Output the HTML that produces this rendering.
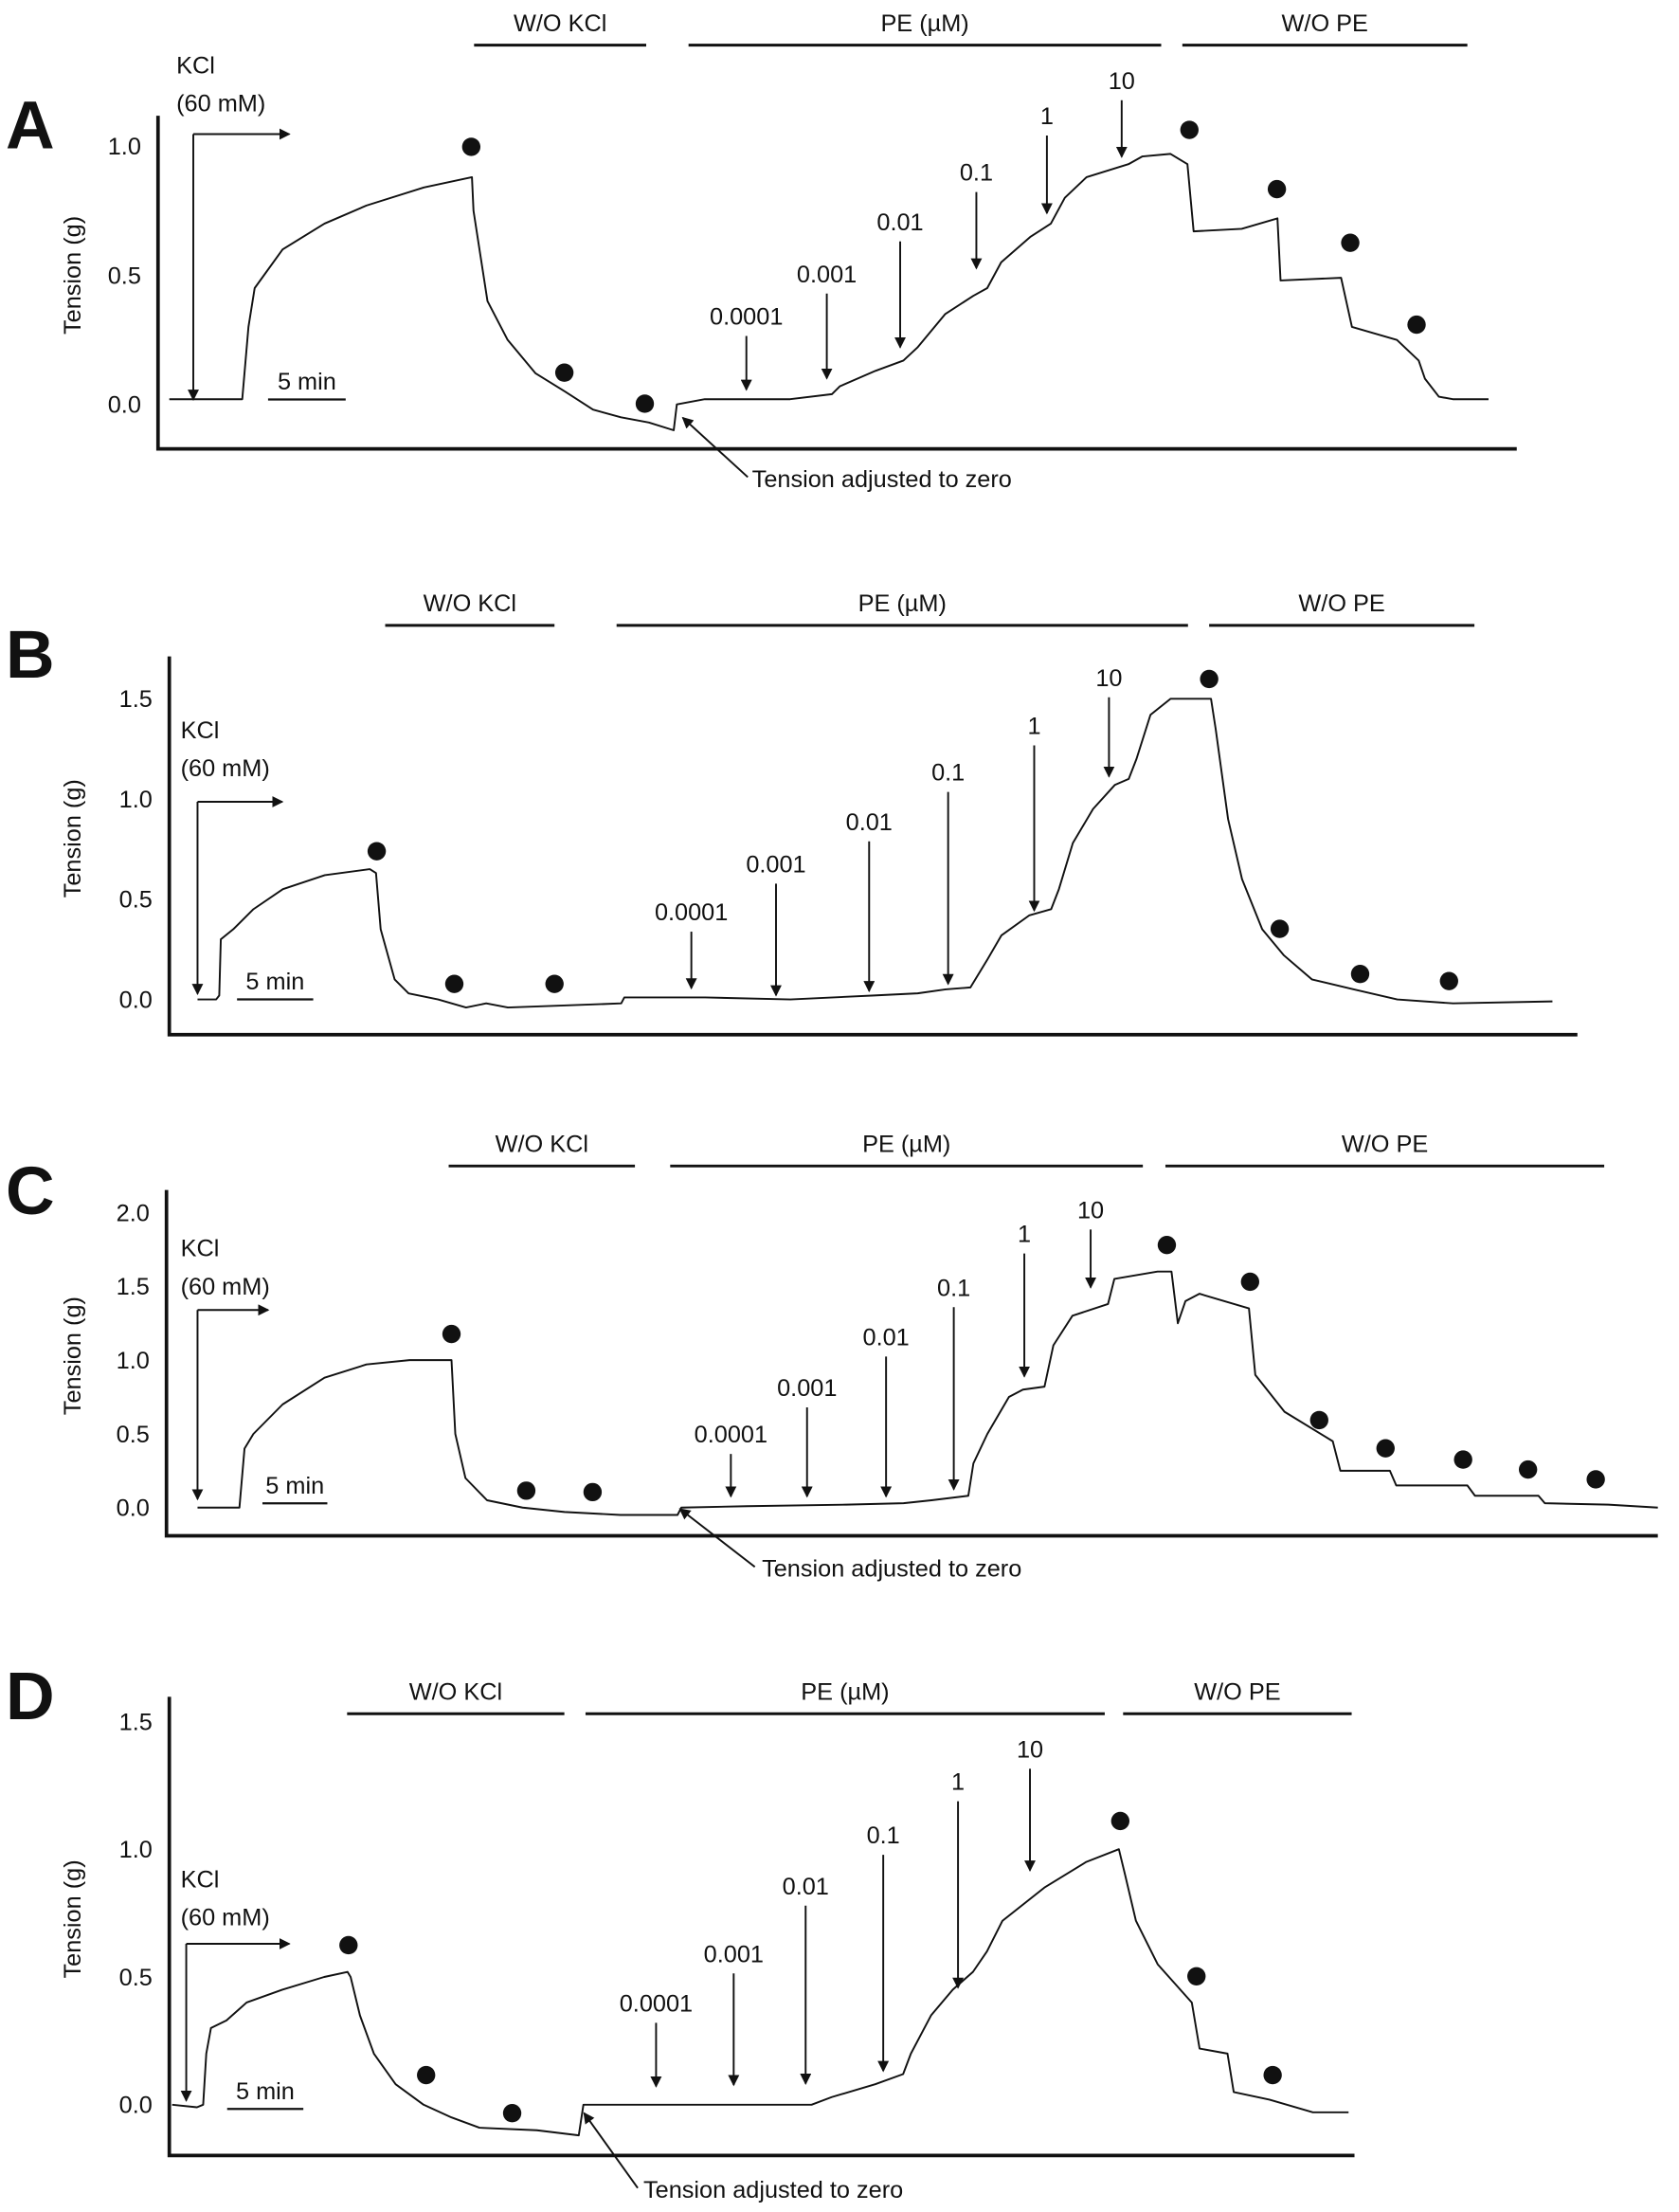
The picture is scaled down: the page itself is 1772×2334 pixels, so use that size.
<!DOCTYPE html>
<html><head><meta charset="utf-8"><style>
html,body{margin:0;padding:0;background:#fff}
svg{display:block}
text{font-family:"Liberation Sans",sans-serif;fill:#111}
</style></head><body>
<svg id="fig" width="1772" height="2334" viewBox="0 0 1190 1567" preserveAspectRatio="none" xmlns="http://www.w3.org/2000/svg">
<defs><marker id="ah" markerWidth="8" markerHeight="8" refX="7" refY="4" orient="auto" markerUnits="userSpaceOnUse"><path d="M0,0 L8,4 L0,8 Z" fill="#111"/></marker></defs>
</svg>
<script>
// Panel A data (time in min, tension in g)
const timeA=[0,4.7,5.1,5.5,7.3,10,12.7,16.4,19.5,19.6,20.5,21.8,23.6,25.5,27.3,29.1,30.9,32.5,32.7,34.5,40,42.7,43.2,45.5,47.3,48.2,50,51.8,52.7,53.6,55.5,56.8,57.7,59.1,61.8,62.7,64.5,65.6,66,69.1,71.4,71.6,75.5,76.2,79.1,80.5,80.9,81.8,82.7,85];
const tensionA=[0.02,0.02,0.3,0.45,0.6,0.7,0.77,0.84,0.88,0.75,0.4,0.25,0.12,0.05,-0.02,-0.05,-0.07,-0.1,0.0,0.02,0.02,0.04,0.07,0.13,0.17,0.22,0.35,0.42,0.45,0.55,0.65,0.7,0.8,0.88,0.93,0.96,0.97,0.93,0.67,0.68,0.72,0.48,0.49,0.3,0.25,0.17,0.1,0.03,0.02,0.02];
const ticksA=["0.0","0.5","1.0"];
// Panel B
const timeB=[0,1.2,1.4,1.5,2.3,3.6,5.5,8.2,11.1,11.5,11.8,12.7,13.6,15.5,17.3,18.6,20,23.6,27.3,27.5,32.7,38.2,43.6,46.4,48.2,49.8,50.9,51.8,53.6,55,55.5,56.4,57.7,59.1,60,60.5,61.4,62.7,65.3,65.6,66.4,67.3,68.6,70,71.8,74.5,77.3,80.9,87.3];
const tensionB=[0,0,0.02,0.3,0.35,0.45,0.55,0.62,0.65,0.63,0.35,0.1,0.03,0.0,-0.04,-0.02,-0.04,-0.03,-0.02,0.01,0.01,0.0,0.02,0.03,0.05,0.06,0.2,0.32,0.42,0.45,0.55,0.78,0.95,1.07,1.1,1.2,1.42,1.5,1.5,1.35,0.9,0.6,0.35,0.22,0.1,0.05,0.0,-0.02,-0.01];
const ticksB=["0.0","0.5","1.0","1.5"];
// Panel C
const timeC=[0,3.3,3.7,4.4,6.7,10,13.3,16.7,20,20.3,21.1,22.8,25.6,28.9,33.3,37.8,38.1,43.3,51.1,55.6,57.8,60.7,61.1,62.2,63.9,65,66.7,67.4,68.9,71.7,72.2,75.6,76.7,77.2,77.8,78.9,82.8,83.3,85.6,89.4,90,93.9,94.4,100,100.6,105.6,106.1,111.1,115];
const tensionC=[0,0,0.4,0.5,0.7,0.88,0.97,1.0,1.0,0.5,0.2,0.05,0.0,-0.03,-0.05,-0.05,0.0,0.01,0.02,0.03,0.05,0.08,0.3,0.5,0.75,0.8,0.82,1.1,1.3,1.38,1.55,1.6,1.6,1.25,1.4,1.45,1.35,0.9,0.65,0.45,0.25,0.25,0.15,0.15,0.08,0.08,0.03,0.02,0.0];
const ticksC=["0.0","0.5","1.0","1.5","2.0"];
// Panel D
const timeD=[0,1.6,2,2.2,2.5,3.5,4.8,7.1,9.8,11.3,11.5,12.1,13,14.4,16.2,18,19.8,23.5,26.2,26.5,30.7,36.2,41.2,42.5,45.3,47.1,47.6,48.9,50.3,51.6,52.5,53.5,56.2,58.9,61,61.4,62.1,63.5,65.7,66.2,68,68.4,70.7,73.5,75.8];
const tensionD=[0,-0.01,0,0.2,0.3,0.33,0.4,0.45,0.5,0.52,0.5,0.35,0.2,0.08,0.0,-0.05,-0.09,-0.1,-0.12,0.0,0.0,0.0,0.0,0.03,0.08,0.12,0.2,0.35,0.45,0.52,0.6,0.72,0.85,0.95,1.0,0.9,0.72,0.55,0.4,0.22,0.2,0.05,0.02,-0.03,-0.03];
const ticksD=["0.0","0.5","1.0","1.5"];

const svg=document.getElementById('fig');
const NS="http://www.w3.org/2000/svg";
function mk(tag,attrs,parent){const e=document.createElementNS(NS,tag);for(const k in attrs)e.setAttribute(k,attrs[k]);(parent||svg).appendChild(e);return e;}
function txt(x,y,s,size,anchor,parent,weight){const t=mk('text',{x:x,y:y,'font-size':size||17,'text-anchor':anchor||'start'},parent);if(weight)t.setAttribute('font-weight',weight);t.textContent=s;return t;}

const panels=[
 {id:'a',letter:'A',time:timeA,val:tensionA,ticks:ticksA,ax:112,top:82,bot:318,right:1075,x0:120,ppm:11,y0:286.5,ppg:183,
  bars:[[336,458,32,'W/O KCl'],[488,823,32,'PE (µM)'],[838,1040,32,'W/O PE']],
  kcl:[125,52,137,95,283,205],scale:[190,245,283],
  dots:[[334,104],[400,264],[457,286],[843,92],[905,134],[957,172],[1004,230]],
  pe:[[529,'0.0001',230,276],[586,'0.001',200,268],[638,'0.01',163,246],[692,'0.1',128,190],[742,'1',88,151],[795,'10',63,111]],
  adj:[533,345,530,338,484,296],letY:105},
 {id:'b',letter:'B',time:timeB,val:tensionB,ticks:ticksB,ax:120,top:465,bot:733,right:1118,x0:140,ppm:11,y0:708,ppg:142,
  bars:[[273,393,443,'W/O KCl'],[437,842,443,'PE (µM)'],[857,1045,443,'W/O PE']],
  kcl:[128,523,140,568,704,200],scale:[168,222,708],
  dots:[[267,603],[322,697],[393,697],[857,481],[907,658],[964,690],[1027,695]],
  pe:[[490,'0.0001',652,700],[550,'0.001',618,705],[616,'0.01',588,702],[672,'0.1',553,697],[733,'1',520,645],[786,'10',486,550]],
  adj:null,letY:480},
 {id:'c',letter:'C',time:timeC,val:tensionC,ticks:ticksC,ax:118,top:843,bot:1088,right:1175,x0:140,ppm:9,y0:1068,ppg:104.5,
  bars:[[318,450,826,'W/O KCl'],[475,810,826,'PE (µM)'],[826,1137,826,'W/O PE']],
  kcl:[128,890,140,928,1062,190],scale:[186,232,1065],
  dots:[[320,945],[373,1056],[420,1057],[827,882],[886,908],[935,1006],[982,1026],[1037,1034],[1083,1041],[1131,1048]],
  pe:[[518,'0.0001',1022,1060],[572,'0.001',989,1060],[628,'0.01',953,1060],[676,'0.1',918,1055],[726,'1',880,975],[773,'10',863,912]],
  adj:[540,1117,535,1110,482,1069],letY:860},
 {id:'d',letter:'D',time:timeD,val:tensionD,ticks:ticksD,ax:120,top:1202,bot:1527,right:960,x0:122,ppm:11,y0:1491,ppg:181,
  bars:[[246,400,1214,'W/O KCl'],[415,783,1214,'PE (µM)'],[796,958,1214,'W/O PE']],
  kcl:[128,1337,132,1377,1488,205],scale:[161,215,1494],
  dots:[[247,1378],[302,1470],[363,1497],[794,1290],[848,1400],[902,1470]],
  pe:[[465,'0.0001',1425,1478],[520,'0.001',1390,1477],[571,'0.01',1342,1476],[626,'0.1',1306,1467],[679,'1',1268,1408],[730,'10',1245,1325]],
  adj:[456,1557,452,1550,414,1497],letY:1218}
];

panels.forEach(p=>{
  const g=mk('g',{});
  
  
  const xs=t=>p.x0+t*p.ppm;
  const ys=v=>p.y0-v*p.ppg;
  const L=txt(4,p.letY,p.letter,48,'start',g,'bold');
  
  
  const axes=mk('path',{d:`M${p.ax},${p.top} L${p.ax},${p.bot} L${p.right},${p.bot}`,fill:'none',stroke:'#111','stroke-width':2.5},g);
  
  
  p.ticks.forEach(s=>{
    const t=txt(p.ax-12,ys(parseFloat(s))+6,s,17,'end',g);
    
    
  });
  const yt=txt(0,0,'Tension (g)',17,'middle',g);
  yt.setAttribute('transform',`translate(57,${(p.top+p.bot)/2-5}) rotate(-90)`);
  
  
  let d='';
  p.time.forEach((t,i)=>{d+=(i?'L':'M')+xs(t).toFixed(1)+','+ys(p.val[i]).toFixed(1)+' ';});
  const tr=mk('path',{d:d,fill:'none',stroke:'#111','stroke-width':1.3,'stroke-linejoin':'round'},g);
  
  
  p.bars.forEach(b=>{
    const l=mk('line',{x1:b[0],x2:b[1],y1:b[2],y2:b[2],stroke:'#111','stroke-width':2},g);
    
    
    const t=txt((b[0]+b[1])/2,b[2]-10,b[3],17,'middle',g);
    
    
  });
  const k=p.kcl;
  const k1=txt(k[0],k[1],'KCl',17,'start',g);
  
  
  const k2=txt(k[0],k[1]+27,'(60 mM)',17,'start',g);
  
  
  const a1=mk('line',{x1:k[2],y1:k[3],x2:k[2],y2:k[4],stroke:'#111','stroke-width':1.3,'marker-end':'url(#ah)'},g);
  
  
  const a2=mk('line',{x1:k[2],y1:k[3],x2:k[5],y2:k[3],stroke:'#111','stroke-width':1.3,'marker-end':'url(#ah)'},g);
  
  
  const sc=p.scale;
  const sb=mk('line',{x1:sc[0],x2:sc[1],y1:sc[2],y2:sc[2],stroke:'#111','stroke-width':1.5},g);
  
  
  const st=txt((sc[0]+sc[1])/2,sc[2]-7,'5 min',17,'middle',g);
  
  
  p.dots.forEach(c=>{
    const e=mk('circle',{cx:c[0],cy:c[1],r:6.5,fill:'#111'},g);
    
    
  });
  p.pe.forEach(q=>{
    const t=txt(q[0],q[2],q[1],17,'middle',g);
    
    
    const a=mk('line',{x1:q[0],y1:q[2]+8,x2:q[0],y2:q[3],stroke:'#111','stroke-width':1.3,'marker-end':'url(#ah)'},g);
    
    
  });
  if(p.adj){
    const j=p.adj;
    const t=txt(j[0],j[1],'Tension adjusted to zero',17,'start',g);
    
    
    const a=mk('line',{x1:j[2],y1:j[3],x2:j[4],y2:j[5],stroke:'#111','stroke-width':1.3,'marker-end':'url(#ah)'},g);
    
    
  }
});
</script>
</body></html>
